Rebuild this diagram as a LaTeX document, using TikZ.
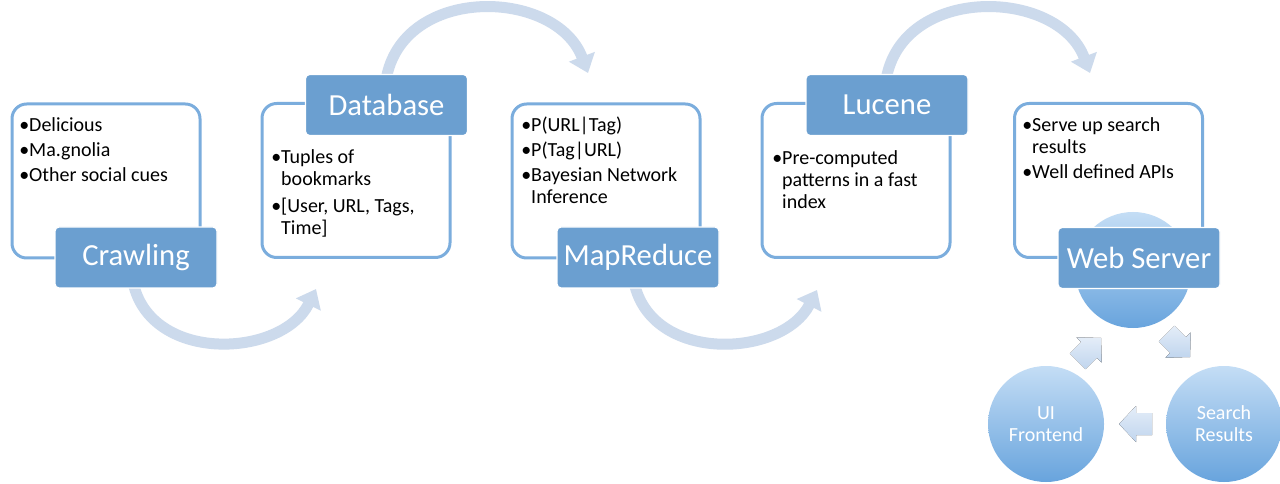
\documentclass[tikz,border=0pt]{standalone}
\usepackage{fontspec}
\setmainfont{Carlito}
\usetikzlibrary{arrows.meta}
\definecolor{labelblue}{RGB}{107,159,208}
\definecolor{boxborder}{RGB}{123,173,221}
\definecolor{arccol}{RGB}{204,218,236}
\definecolor{circtop}{RGB}{196,221,245}
\definecolor{circbot}{RGB}{104,164,221}
\definecolor{arrtop}{RGB}{228,237,248}
\definecolor{arrbot}{RGB}{192,213,238}
\newcommand\blkarrow[3]{\fill[top color=arrtop,bottom color=arrbot,shift={(#1,#2)},rotate=#3] (-16,-11) -- (0,-11) -- (0,-18) -- (17,0) -- (0,18) -- (0,11) -- (-16,11) -- cycle;}
\begin{document}
\begin{tikzpicture}[x=0.75pt,y=-0.75pt,
  box/.style={draw=boxborder,line width=2.25pt,rounded corners=11pt,fill=white,minimum width=141pt,minimum height=115.5pt,inner sep=0pt},
  lbl/.style={fill=labelblue,draw=white,line width=1pt,rounded corners=3pt,minimum width=121.5pt,minimum height=45.75pt,inner sep=0pt,text=white,font=\fontsize{23}{27}\selectfont},
  txt/.style={anchor=north west,inner sep=0pt,align=left,font=\fontsize{15}{16.5}\selectfont},
  circ/.style={circle,minimum size=87pt,inner sep=0pt,top color=circtop,bottom color=circbot,text=white,align=center,font=\fontsize{15}{16.5}\selectfont},
  flow/.style={line width=8.25pt,draw=arccol,-{Triangle[width=20pt,length=13pt]}}]
\useasboundingbox (0,0) rectangle (1280,484);
\fill[white] (0,0) rectangle (1280,484);
% flow arcs
\coordinate (a1s) at (133,282); \coordinate (a1e) at (316,289);
\coordinate (a2s) at (386,80);  \coordinate (a2e) at (588,73);
\coordinate (a3s) at (634,282); \coordinate (a3e) at (817,290);
\coordinate (a4s) at (886,80);  \coordinate (a4e) at (1090,73);
\draw[flow] (a1s) .. controls (150,364) and (282,358) .. (a1e);
\draw[flow] (a2s) .. controls (402,-16) and (556,-12) .. (a2e);
\draw[flow] (a3s) .. controls (651,364) and (782,358) .. (a3e);
\draw[flow] (a4s) .. controls (902,-16) and (1058,-12) .. (a4e);
% white boxes
\node[box] (b1) at (106,181) {};
\node[box] (b2) at (356,180.5) {};
\node[box] (b3) at (606,181) {};
\node[box] (b4) at (856,180.5) {};
\node[box] (b5) at (1108.5,180.5) {};
% texts
\node[txt] (t1) at (19,117) {•Delicious\\[2.25pt]•Ma.gnolia\\[2.25pt]•Other social cues};
\node[txt] (t2) at (271,149) {•Tuples of\\\phantom{•}bookmarks\\[4pt]•[User, URL, Tags,\\\phantom{•}Time]};
\node[txt] (t3) at (521,117) {•P(URL|Tag)\\[2.25pt]•P(Tag|URL)\\[2.25pt]•Bayesian Network\\\phantom{•}Inference};
\node[txt] (t4) at (772,150) {•Pre-computed\\\phantom{•}patterns in a fast\\\phantom{•}index};
\node[txt] (t5) at (1022,117) {•Serve up search\\\phantom{•}results\\[2.25pt]•Well defined APIs};
% circles
\node[circ] (ws) at (1133,270) {};
\node[circ] (ui) at (1046,424) {UI\\Frontend};
\node[circ] (sr) at (1224,424) {Search\\Results};
\blkarrow{1089}{350}{45}
\blkarrow{1178}{345}{-45}
\blkarrow{1136}{424}{180}
% labels
\node[lbl] (crawl) at (136,257.5) {Crawling};
\node[lbl] (db) at (386.5,105) {Database};
\node[lbl] (mr) at (638,257.5) {MapReduce};
\node[lbl] (luc) at (887,105) {Lucene};
\node[lbl] (web) at (1139,258) {Web Server};
\end{tikzpicture}
\end{document}
